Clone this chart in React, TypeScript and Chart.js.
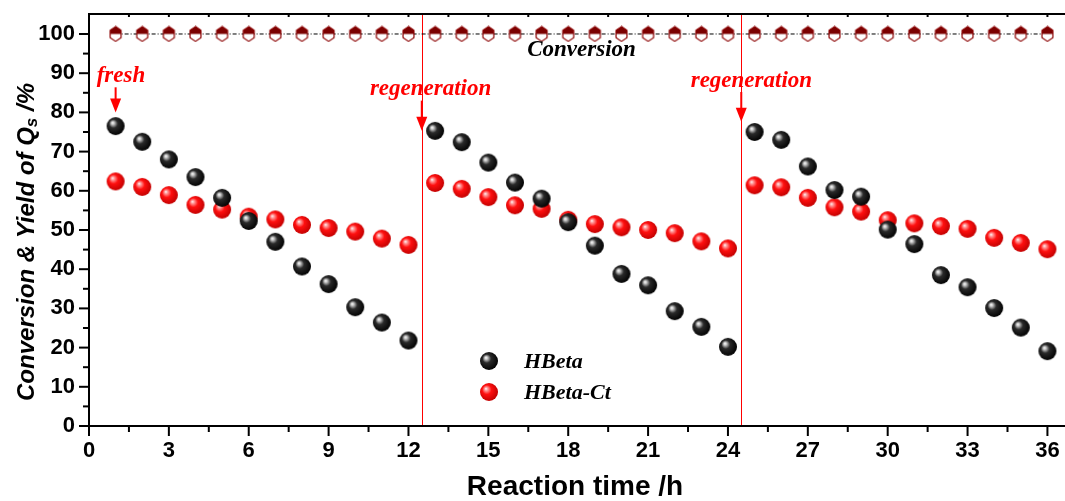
import React, { useEffect, useRef } from "react";
import { Chart, registerables } from "chart.js";
Chart.register(...registerables);

const hours = [1, 2, 3, 4, 5, 6, 7, 8, 9, 10, 11, 12, 13, 14, 15, 16, 17, 18, 19, 20, 21, 22, 23, 24, 25, 26, 27, 28, 29, 30, 31, 32, 33, 34, 35, 36];
const hbeta = [76.5, 72.5, 68, 63.5, 58.2, 52.3, 47, 40.7, 36.2, 30.3, 26.4, 21.8, 75.3, 72.4, 67.2, 62.1, 58, 52, 46, 38.8, 35.9, 29.3, 25.3, 20.2, 75, 73, 66.2, 60.2, 58.5, 50.1, 46.4, 38.5, 35.4, 30.1, 25.1, 19.1];
const hbetaCt = [62.4, 61, 58.9, 56.4, 55.2, 53.4, 52.7, 51.3, 50.5, 49.6, 47.8, 46.2, 62, 60.5, 58.4, 56.3, 55.4, 52.6, 51.5, 50.7, 50, 49.2, 47.1, 45.3, 61.4, 60.9, 58.2, 55.8, 54.7, 52.5, 51.7, 51, 50.3, 48, 46.7, 45.1];
const conversion = [100, 100, 100, 100, 100, 100, 100, 100, 100, 100, 100, 100, 100, 100, 100, 100, 100, 100, 100, 100, 100, 100, 100, 100, 100, 100, 100, 100, 100, 100, 100, 100, 100, 100, 100, 100];
const xTickValues = [0, 3, 6, 9, 12, 15, 18, 21, 24, 27, 30, 33, 36];
const yTickValues = [0, 10, 20, 30, 40, 50, 60, 70, 80, 90, 100];
const regenerationTimes = [12.5, 24.5];
const seriesNames = ["HBeta", "HBeta-Ct"];
const annotations = [
  { text: "fresh", tx: 1.2, ty: 89.3, ax: 1, y1: 86.4, y2: 80 },
  { text: "regeneration", tx: 12.83, ty: 86, ax: 12.5, y1: 83, y2: 75.3 },
  { text: "regeneration", tx: 24.88, ty: 88, ax: 24.5, y1: 85.2, y2: 77.6 },
];
const conversionLabel = { text: "Conversion", x: 18.5, y: 96 };

function makeBall(r: number, stops: [number, string][]) {
  const c = document.createElement("canvas");
  const s = Math.ceil(2 * r + 2);
  c.width = s;
  c.height = s;
  const ctx = c.getContext("2d")!;
  const cx = s / 2, cy = s / 2;
  const g = ctx.createRadialGradient(cx - r * 0.35, cy - r * 0.38, 0, cx - r * 0.1, cy - r * 0.1, r * 1.15);
  stops.forEach(([o, col]) => g.addColorStop(o, col));
  ctx.fillStyle = g;
  ctx.beginPath();
  ctx.arc(cx, cy, r, 0, Math.PI * 2);
  ctx.fill();
  return c;
}

function makeHex() {
  const w = 15, h = 17;
  const c = document.createElement("canvas");
  c.width = w;
  c.height = h;
  const ctx = c.getContext("2d")!;
  const cx = w / 2, cy = h / 2, rx = 6.3, ry = 7.4;
  const path = () => {
    ctx.beginPath();
    for (let i = 0; i < 6; i++) {
      const a = (-90 + i * 60) * Math.PI / 180;
      const px = cx + rx * Math.cos(a);
      const py = cy + ry * Math.sin(a);
      if (i === 0) ctx.moveTo(px, py); else ctx.lineTo(px, py);
    }
    ctx.closePath();
  };
  path();
  ctx.fillStyle = "#ffffff";
  ctx.fill();
  ctx.save();
  ctx.beginPath();
  ctx.rect(0, 0, w, cy);
  ctx.clip();
  path();
  ctx.fillStyle = "#7a0000";
  ctx.fill();
  ctx.restore();
  path();
  ctx.strokeStyle = "#8b0000";
  ctx.lineWidth = 1.2;
  ctx.stroke();
  return c;
}

export default function App() {
  const ref = useRef<HTMLCanvasElement>(null);
  useEffect(() => {
    document.body.style.margin = "0";
    document.body.style.overflow = "hidden";
    document.documentElement.style.overflow = "hidden";
    const blackBall = makeBall(9, [[0, "#ffffff"], [0.13, "#d0d0d0"], [0.42, "#2a2a2a"], [1, "#000000"]]);
    const redBall = makeBall(9, [[0, "#ffffff"], [0.15, "#ffa0a0"], [0.45, "#ff1010"], [1, "#c00000"]]);
    const hex = makeHex();

    const decor = {
      id: "decor",
      beforeDatasetsDraw(chart: any) {
        const { ctx, chartArea: ca, scales } = chart;
        ctx.save();
        ctx.strokeStyle = "#ff0000";
        ctx.lineWidth = 1;
        regenerationTimes.forEach((t) => {
          const x = Math.round(scales.x.getPixelForValue(t)) + 0.5;
          ctx.beginPath();
          ctx.moveTo(x, ca.top);
          ctx.lineTo(x, ca.bottom);
          ctx.stroke();
        });
        ctx.restore();
      },
      afterDraw(chart: any) {
        const { ctx, chartArea: ca, scales } = chart;
        const xs = scales.x, ys = scales.y;
        ctx.save();
        ctx.strokeStyle = "#000";
        ctx.lineWidth = 2;
        ctx.beginPath();
        ctx.moveTo(ca.left, ca.top);
        ctx.lineTo(ca.right, ca.top);
        ctx.moveTo(ca.left, ca.top - 1);
        ctx.lineTo(ca.left, ca.bottom + 1);
        ctx.moveTo(ca.left - 1, ca.bottom);
        ctx.lineTo(ca.right, ca.bottom);
        ctx.stroke();
        // x ticks
        for (let v = 0; v <= 36.01; v += 1.5) {
          const x = xs.getPixelForValue(v);
          const major = Math.abs(v / 3 - Math.round(v / 3)) < 1e-6;
          ctx.beginPath();
          ctx.moveTo(x, ca.bottom);
          ctx.lineTo(x, ca.bottom + (major ? 10 : 6));
          ctx.moveTo(x, ca.top);
          ctx.lineTo(x, ca.top + 3);
          ctx.stroke();
        }
        // y ticks
        for (let v = 0; v <= 100.01; v += 5) {
          const y = ys.getPixelForValue(v);
          const major = v % 10 === 0;
          ctx.beginPath();
          ctx.moveTo(ca.left, y);
          ctx.lineTo(ca.left - (major ? 10 : 6), y);
          ctx.stroke();
        }
        // annotations
        ctx.fillStyle = "#ff0000";
        ctx.strokeStyle = "#ff0000";
        ctx.font = "italic bold 23px 'Liberation Serif', 'DejaVu Serif', serif";
        ctx.textAlign = "center";
        ctx.textBaseline = "middle";
        annotations.forEach((a) => {
          ctx.fillText(a.text, xs.getPixelForValue(a.tx), ys.getPixelForValue(a.ty));
          const x = xs.getPixelForValue(a.ax);
          const y1 = ys.getPixelForValue(a.y1);
          const y2 = ys.getPixelForValue(a.y2);
          ctx.lineWidth = 2;
          ctx.beginPath();
          ctx.moveTo(x, y1);
          ctx.lineTo(x, y2 - 10);
          ctx.stroke();
          ctx.beginPath();
          ctx.moveTo(x - 5.5, y2 - 14);
          ctx.lineTo(x + 5.5, y2 - 14);
          ctx.lineTo(x, y2);
          ctx.closePath();
          ctx.fill();
        });
        // Conversion label
        ctx.fillStyle = "#000";
        ctx.fillText(conversionLabel.text, xs.getPixelForValue(conversionLabel.x), ys.getPixelForValue(conversionLabel.y));
        // legend
        const lx = 489;
        const ly = [361, 392];
        const balls = [blackBall, redBall];
        ctx.textAlign = "left";
        ctx.font = "italic bold 22px 'Liberation Serif', 'DejaVu Serif', serif";
        seriesNames.forEach((n, i) => {
          const b = balls[i];
          ctx.drawImage(b, lx - b.width / 2, ly[i] - b.height / 2);
          ctx.fillStyle = "#000";
          ctx.fillText(n, 524, ly[i] + 1);
        });
        // x title
        ctx.textAlign = "center";
        ctx.font = "bold 28px 'Liberation Sans', Arial, sans-serif";
        ctx.fillText("Reaction time /h", 575, 487);
        // y title with subscript
        ctx.save();
        ctx.translate(27, 242);
        ctx.rotate(-Math.PI / 2);
        const mainFont = "italic bold 24px 'Liberation Sans', Arial, sans-serif";
        const subFont = "italic bold 17px 'Liberation Sans', Arial, sans-serif";
        const p1 = "Conversion & Yield of Q";
        const p2 = "s";
        const p3 = " /%";
        ctx.font = mainFont;
        const w1 = ctx.measureText(p1).width;
        const w3 = ctx.measureText(p3).width;
        ctx.font = subFont;
        const w2 = ctx.measureText(p2).width;
        let sx = -(w1 + w2 + w3) / 2;
        ctx.textAlign = "left";
        ctx.textBaseline = "middle";
        ctx.font = mainFont;
        ctx.fillText(p1, sx, 0);
        sx += w1;
        ctx.font = subFont;
        ctx.fillText(p2, sx, 5);
        sx += w2;
        ctx.font = mainFont;
        ctx.fillText(p3, sx, 0);
        ctx.restore();
        ctx.restore();
      },
    };

    const toPts = (arr: number[]) => hours.map((h, i) => ({ x: h, y: arr[i] }));
    const chart = new Chart(ref.current!, {
      type: "scatter",
      data: {
        datasets: [
          {
            label: "Conversion",
            data: toPts(conversion),
            showLine: true,
            borderColor: "#000",
            borderWidth: 1,
            borderDash: [4, 2, 1, 2],
            pointStyle: hex as any,
            pointRadius: 7,
          },
          {
            label: seriesNames[0],
            data: toPts(hbeta),
            pointStyle: blackBall as any,
            pointRadius: 9,
          },
          {
            label: seriesNames[1],
            data: toPts(hbetaCt),
            pointStyle: redBall as any,
            pointRadius: 9,
          },
        ],
      },
      options: {
        animation: false,
        responsive: true,
        maintainAspectRatio: false,
        layout: { autoPadding: false, padding: { top: 14, right: 0, left: 0, bottom: 0 } },
        plugins: { legend: { display: false }, tooltip: { enabled: false } },
        scales: {
          x: {
            type: "linear",
            min: 0,
            max: 36.66,
            grid: { display: false, drawTicks: false },
            border: { display: false },
            afterBuildTicks: (s: any) => { s.ticks = xTickValues.map((v) => ({ value: v })); },
            afterFit: (s: any) => { s.height = 75; s.paddingLeft = 0; s.paddingRight = 0; },
            ticks: {
              padding: 12,
              color: "#000",
              maxRotation: 0,
              autoSkip: false,
              font: { family: "'Liberation Sans', Arial, sans-serif", size: 22, weight: "bold" },
            },
          },
          y: {
            type: "linear",
            min: 0,
            max: 105.1,
            grid: { display: false, drawTicks: false },
            border: { display: false },
            afterBuildTicks: (s: any) => { s.ticks = yTickValues.map((v) => ({ value: v })); },
            afterFit: (s: any) => { s.width = 89; s.paddingTop = 0; s.paddingBottom = 0; },
            ticks: {
              padding: 14,
              color: "#000",
              autoSkip: false,
              font: { family: "'Liberation Sans', Arial, sans-serif", size: 22, weight: "bold" },
            },
          },
        },
      },
      plugins: [decor],
    });
    return () => chart.destroy();
  }, []);
  return (
    <div style={{ position: "fixed", left: 0, top: 0, width: 1065, height: 501, overflow: "hidden" }}>
      <canvas ref={ref} />
    </div>
  );
}
